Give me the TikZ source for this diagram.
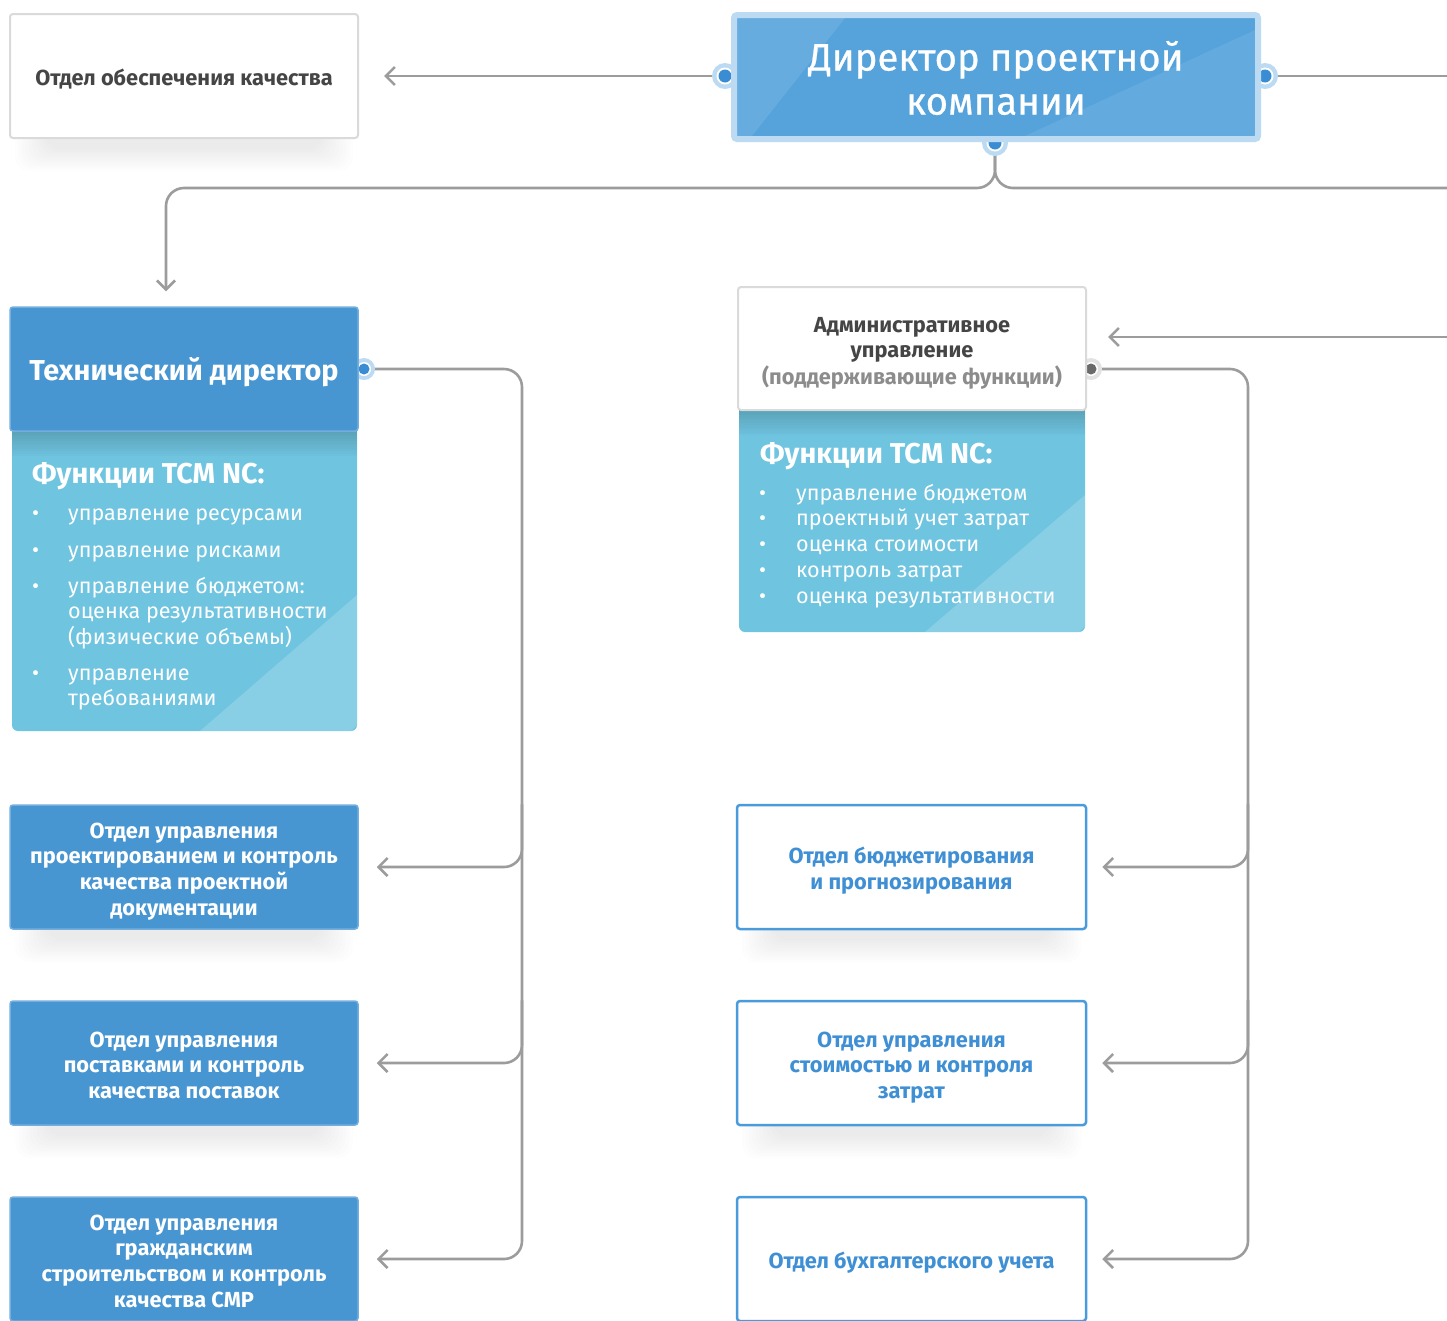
\documentclass[tikz,border=0pt]{standalone}
\usepackage{fontspec}
\setmainfont{Fira Sans}
\usetikzlibrary{arrows.meta,calc,backgrounds}

\definecolor{dirblue}{HTML}{56A3DC}
\definecolor{halo}{HTML}{BCDAF1}
\definecolor{dotblue}{HTML}{3B8DD3}
\definecolor{deepblue}{HTML}{4795D1}
\definecolor{deepedge}{HTML}{74AEDF}
\definecolor{cyanbox}{HTML}{6FC4E0}
\definecolor{lineblue}{HTML}{4A9BDB}
\definecolor{textblue}{HTML}{3F8FD5}
\definecolor{wirecol}{HTML}{9C9C9C}
\definecolor{greyedge}{HTML}{DADADA}
\definecolor{darktext}{HTML}{454545}
\definecolor{softtext}{HTML}{8C8C8C}
\definecolor{greydot}{HTML}{E2E2E2}

\newcommand\fsz[2]{\fontsize{#1pt}{#2pt}\selectfont}
% box text, set a little below the geometric centre (size kept for centring)
\newcommand\boxtext[1]{\raisebox{-4.5pt}[\height][\depth]{\begin{tabular}{@{}c@{}}#1\end{tabular}}}

% soft drop shadow under a box
\newcommand\dropshadow[1]{%
  \foreach \k in {0,...,9}{%
    \fill[black, opacity=0.009, rounded corners=14pt]
      ($(#1.south west)+(6+3.5*\k,-20+1.5*\k)$) rectangle
      ($(#1.south east)+(-6-3.5*\k,32-2.4*\k)$);}}

% shade cast by a header onto the body below it
\newcommand\topshade[3]{%
  \foreach \k in {1,...,10}{%
    \fill[black, opacity=0.014] (#1,#3) rectangle (#2,#3+2.5*\k);}}

\tikzset{
  wire/.style={draw=wirecol, line width=2.6pt, rounded corners=18pt},
  arrowwire/.style={wire, -{Straight Barb[length=9pt,width=18pt]}},
  greybox/.style={rectangle, rounded corners=3pt, fill=white, draw=greyedge,
    line width=2pt, minimum width=348pt, minimum height=124pt, inner sep=0pt,
    align=center, text=darktext, font=\bfseries\fsz{21.8}{25.6}},
  deepbox/.style={rectangle, rounded corners=3pt, fill=deepblue, draw=deepedge,
    line width=1.5pt, minimum width=348pt, minimum height=124pt, inner sep=0pt,
    align=center, text=white, font=\bfseries\fsz{21.8}{25.6}},
  lightbox/.style={rectangle, rounded corners=3pt, fill=white, draw=lineblue,
    line width=2.5pt, minimum width=349pt, minimum height=124pt, inner sep=0pt,
    align=center, text=textblue, font=\bfseries\fsz{21.8}{25.6}},
  funcbody/.style={rectangle, rounded corners=6pt, fill=cyanbox, inner sep=0pt},
  functitle/.style={anchor=west, inner sep=0pt, text=white, font=\bfseries\fsz{28.7}{32}},
  funclist/.style={anchor=north west, inner sep=0pt, text=white},
}

\begin{document}
\begin{tikzpicture}[x=1pt,y=-1pt]
\useasboundingbox (0,0) rectangle (1447,1320);
\clip (0,0) rectangle (1447,1320);

% ---------- connector end points ----------
\coordinate (dL) at (725,76);
\coordinate (dR) at (1265,76);
\coordinate (dB) at (995,143);
\coordinate (rO) at (1447,76);
\coordinate (jn) at (0,188);
\coordinate (rB) at (1447,188);
\coordinate (aIn) at (1447,337);
\coordinate (tdot) at (364,369);
\coordinate (tsp) at (522,369);
\coordinate (adot) at (1091,369);
\coordinate (asp) at (1248,369);

% ---------- top row ----------
\node[greybox] (qa) at (184,76) {\boxtext{Отдел обеспечения качества}};

\node[rectangle, rounded corners=3pt, fill=dirblue, draw=halo, line width=6pt,
  minimum width=524pt, minimum height=124pt, inner sep=0pt] (dir) at (996,77) {};
\fill[white, opacity=0.10] (737,18) -- (845,18) -- (752,136) -- (737,136) -- cycle;
\fill[white, opacity=0.08] (1025,136) -- (1255,136) -- (1255,30) -- cycle;
\node[text=white, font=\fsz{38.3}{44}\addfontfeature{FakeBold=0.6}, align=center,
  inner sep=0pt] (dirtxt) at (996,78) {Директор проектной\\компании};

% ---------- technical director ----------
\node[funcbody, minimum width=345pt, minimum height=311pt] (techf) at (184.5,575.5) {};
\fill[white, opacity=0.18] (357,595) -- (357,725) -- (351,731) -- (200,731) -- cycle;
\topshade{12}{357}{431}
\node[deepbox, font=\bfseries\fsz{28.8}{32}] (tech) at (184,369) {\boxtext{Технический директор}};

\node[functitle] (tft) at (32,476) {Функции TCM NC:};
\node[funclist] (tfl) at (32,503) {\fsz{21.6}{25}%
  \begin{tabular}{@{}p{36pt}@{}l@{}}
  • & управление ресурсами\\[11.5pt]
  • & управление рисками\\[11.5pt]
  • & управление бюджетом:\\
    & оценка результативности\\
    & (физические объемы)\\[11.5pt]
  • & управление\\
    & требованиями
  \end{tabular}};

\node[deepbox] (b1) at (184,867) {\boxtext{Отдел управления\\проектированием и контроль\\качества проектной\\документации}};
\node[deepbox] (b2) at (184,1063) {\boxtext{Отдел управления\\поставками и контроль\\качества поставок}};
\node[deepbox] (b3) at (184,1259) {\boxtext{Отдел управления\\гражданским\\строительством и контроль\\качества СМР}};

% ---------- administrative management ----------
\node[funcbody, minimum width=346pt, minimum height=232pt] (admf) at (912,516) {};
\fill[white, opacity=0.18] (1085,495) -- (1085,626) -- (1079,632) -- (925,632) -- cycle;
\topshade{739}{1085}{410}
\node[greybox, minimum width=348pt, minimum height=123pt] (adm) at (912,348.5)
  {\boxtext{Административное\\управление\\\textcolor{softtext}{(поддерживающие функции)}}};

\node[functitle] (aft) at (760,456) {Функции TCM NC:};
\node[funclist] (afl) at (759,482) {\fsz{21.6}{25.7}%
  \begin{tabular}{@{}p{37pt}@{}l@{}}
  • & управление бюджетом\\
  • & проектный учет затрат\\
  • & оценка стоимости\\
  • & контроль затрат\\
  • & оценка результативности
  \end{tabular}};

\node[lightbox] (w1) at (911.5,867) {\boxtext{Отдел бюджетирования\\и прогнозирования}};
\node[lightbox] (w2) at (911.5,1063) {\boxtext{Отдел управления\\стоимостью и контроля\\затрат}};
\node[lightbox] (w3) at (911.5,1259) {\boxtext{Отдел бухгалтерского учета}};

% ---------- shadows, connectors and dots behind the boxes ----------
\begin{scope}[on background layer]
  \dropshadow{qa}\dropshadow{b1}\dropshadow{b2}\dropshadow{w1}\dropshadow{w2}

  \draw[wire] (dR) -- (rO);
  \draw[wire] (dB) -- (dB |- jn) -- (rB);
  \draw[arrowwire, shorten >=15pt] (dB) -- (dB |- jn) -| ($(tech.north)+(-18,0)$);
  \draw[arrowwire, shorten >=25pt] (dL) -- (qa.east);
  \draw[arrowwire, shorten >=21pt] (aIn) -- (aIn -| adm.east);

  \draw[arrowwire, shorten >=18pt] (tdot) -- (tsp) |- (b3.east);
  \draw[arrowwire, shorten >=18pt] (tsp |- b1.north) |- (b1.east);
  \draw[arrowwire, shorten >=18pt] (tsp |- b2.north) |- (b2.east);

  \draw[arrowwire, shorten >=15pt] (adot) -- (asp) |- (w3.east);
  \draw[arrowwire, shorten >=15pt] (asp |- w1.north) |- (w1.east);
  \draw[arrowwire, shorten >=15pt] (asp |- w2.north) |- (w2.east);

  \foreach \p in {dL,dR,dB}{
    \fill[halo] (\p) circle (13pt);
    \fill[white] (\p) circle (8.5pt);
    \fill[dotblue] (\p) circle (6.5pt);}
  \fill[halo] (tdot) circle (11pt);
  \fill[white] (tdot) circle (7pt);
  \fill[dotblue] (tdot) circle (5.5pt);
  \fill[greydot] (adot) circle (11pt);
  \fill[white] (adot) circle (7pt);
  \fill[darktext!80] (adot) circle (5.5pt);
\end{scope}
\end{tikzpicture}
\end{document}
